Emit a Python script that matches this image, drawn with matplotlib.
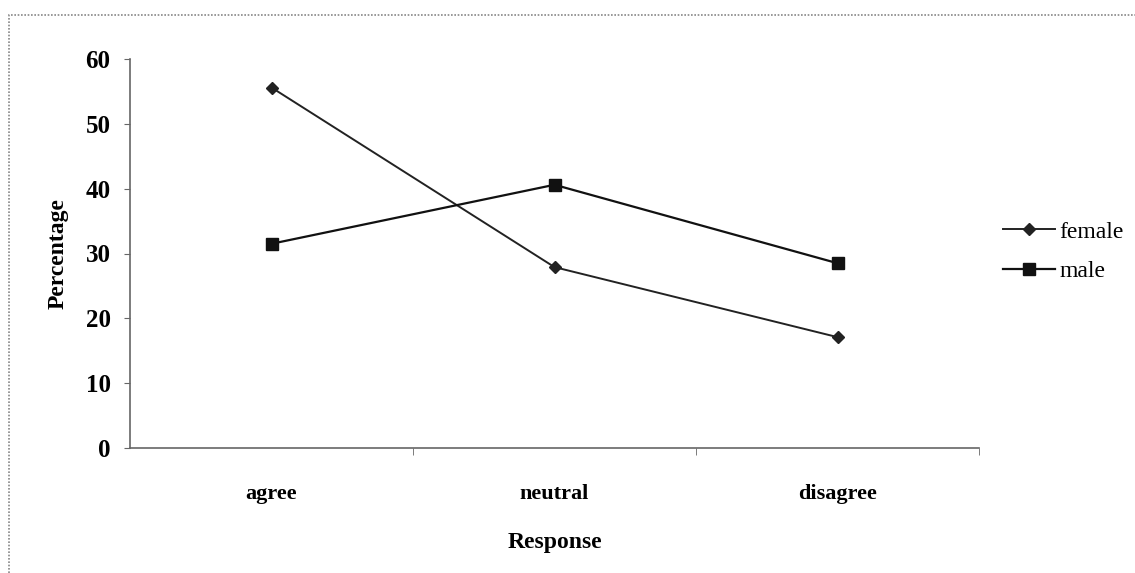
import matplotlib.pyplot as plt
from matplotlib.patches import Rectangle

responses = ['agree', 'neutral', 'disagree']
female = [55.6, 27.9, 17.1]
male = [31.5, 40.6, 28.5]
y_ticks = [0, 10, 20, 30, 40, 50, 60]

plt.rcParams['font.family'] = ['Liberation Serif', 'DejaVu Serif']

fig = plt.figure(figsize=(11.35, 5.73), dpi=100)
ax = fig.add_axes([130 / 1135, 1 - 448 / 573, (979 - 130) / 1135, (448 - 59) / 573])

x = list(range(len(responses)))
ax.plot(x, female, color='#222222', lw=1.4, marker='D', ms=6.5, label='female')
ax.plot(x, male, color='#111111', lw=1.6, marker='s', ms=8, label='male')

ax.set_xlim(-0.5, len(responses) - 0.5)
ax.set_ylim(0, 60)
ax.set_yticks(y_ticks)
ax.set_yticklabels([str(v) for v in y_ticks], fontsize=18, fontweight='bold')
ax.set_xticks(x)
ax.set_xticklabels(responses, fontsize=16, fontweight='bold')
ax.set_xticks([0.5, 1.5, 2.5], minor=True)
ax.tick_params(axis='x', which='major', length=0, pad=26)
ax.tick_params(axis='x', which='minor', length=5, direction='out', color='#666666')
ax.tick_params(axis='y', length=4, direction='out', color='#666666', pad=10)

for side in ['top', 'right']:
    ax.spines[side].set_visible(False)
for side in ['left', 'bottom']:
    ax.spines[side].set_color('#666666')
    ax.spines[side].set_linewidth(1.2)

ax.set_xlabel('Response', fontsize=17, fontweight='bold', labelpad=20)
ax.set_ylabel('Percentage', fontsize=17, fontweight='bold', labelpad=12)

leg = ax.legend(loc='center left', bbox_to_anchor=(1.0, 0.505), frameon=False,
                fontsize=17, handlelength=2.2, handletextpad=0.2, labelspacing=0.75,
                borderaxespad=0.6)

# dotted frame around the chart area
fig.patches.append(Rectangle((9 / 1135, -0.1), 1.2, 1 - 15 / 573 + 0.1,
                             transform=fig.transFigure, fill=False,
                             edgecolor='#888888', lw=1.2, ls=(0, (1, 1))))

fig.savefig('out.png', dpi=100)
